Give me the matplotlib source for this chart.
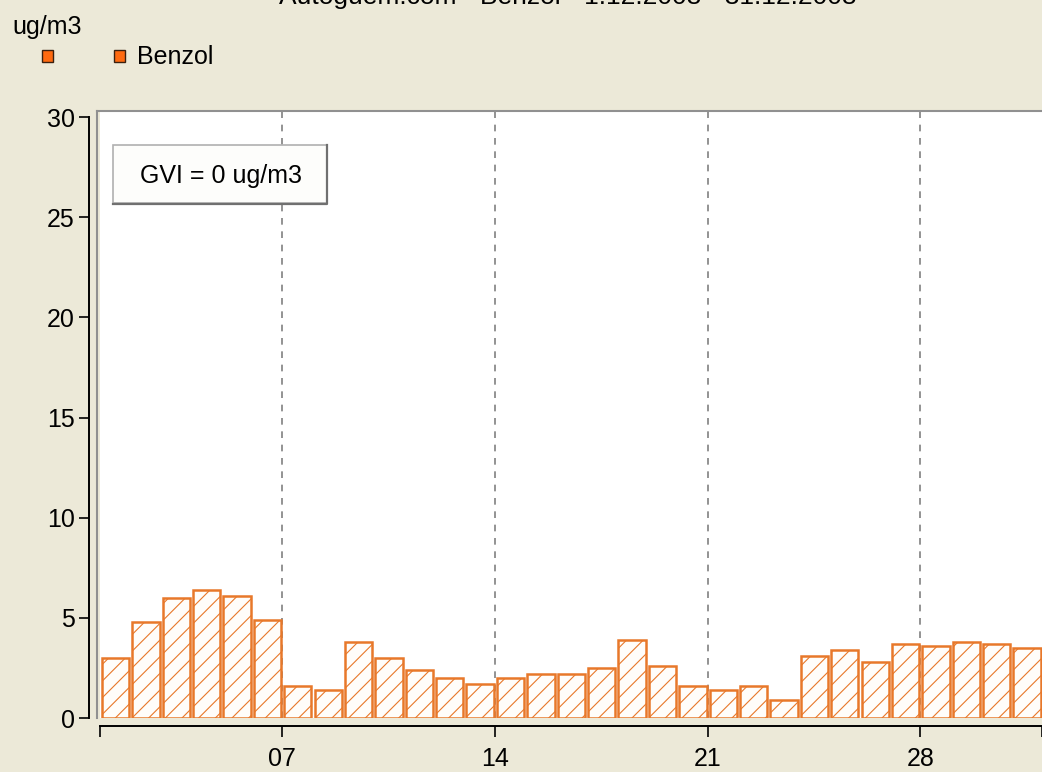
import numpy as np
import matplotlib.pyplot as plt
from matplotlib.patches import Rectangle
from matplotlib.lines import Line2D

plt.rcParams['font.family'] = ['Liberation Sans', 'DejaVu Sans']
plt.rcParams['hatch.linewidth'] = 0.8

# daily benzol values, December
days = list(range(1, 32))
benzol = [3.0, 4.8, 6.0, 6.4, 6.1, 4.9, 1.6, 1.4, 3.8, 3.0, 2.4, 2.0, 1.7, 2.0,
          2.2, 2.2, 2.5, 3.9, 2.6, 1.6, 1.4, 1.6, 0.9, 3.1, 3.4, 2.8, 3.7, 3.6,
          3.8, 3.7, 3.5]
week_ticks = [7, 14, 21, 28]
week_labels = ["07", "14", "21", "28"]
y_ticks = [0, 5, 10, 15, 20, 25, 30]

title = "Autoguem.com - Benzol - 1.12.2008 - 31.12.2008"
unit = "ug/m3"
series_name = "Benzol"
gvi_text = "GVI = 0 ug/m3"

bg = '#ECE9D8'
orange = '#E8782A'

W, H = 1042, 772
fig = plt.figure(figsize=(W / 100, H / 100), dpi=100, facecolor=bg)


def fx(px):
    return px / W


def fy(py):
    return 1 - py / H


ax = fig.add_axes([fx(100), fy(718), fx(942), (718 - 111) / H])
ax.set_facecolor('white')

# dashed week lines
for t in week_ticks:
    ax.axvline(t, color='#808080', lw=1.2, ls=(0, (4, 4)), zorder=1)

ax.bar(np.array(days) + 0.06, benzol, width=0.9, align='edge',
       facecolor='#FFFDFA', edgecolor=orange, hatch='//', lw=1.8, zorder=2)

ax.set_xlim(1, 32)
ax.set_ylim(0, 30.3)

ax.set_xticks([1] + week_ticks + [32])
ax.set_xticklabels([""] + week_labels + [""])
ax.set_yticks(y_ticks)

for s in ['top', 'right']:
    ax.spines[s].set_visible(False)
ax.spines['left'].set_position(('outward', 8))
ax.spines['left'].set_bounds(0, 30)
ax.spines['bottom'].set_position(('outward', 6))
ax.spines['bottom'].set_bounds(1, 32)
ax.spines['left'].set_linewidth(1.4)
ax.spines['bottom'].set_linewidth(1.4)

ax.tick_params(axis='y', direction='out', length=7, width=1.2, pad=3,
               labelsize=18)
ax.tick_params(axis='x', direction='out', length=8, width=1.2, pad=7,
               labelsize=18)

# sunken frame around plot area
fig.add_artist(Line2D([fx(97), fx(1042)], [fy(111), fy(111)],
                      color='#909090', lw=1.5))
fig.add_artist(Line2D([fx(97), fx(97)], [fy(111), fy(718)],
                      color='#909090', lw=1.5))

# GVI box
fig.add_artist(Rectangle((fx(113), fy(203)), fx(214), (203 - 145) / H,
                         facecolor='#FDFDFB', edgecolor='#B0B0B0', lw=1.2))
fig.add_artist(Line2D([fx(113), fx(327), fx(327)],
                      [fy(204), fy(204), fy(145)], color='#707070', lw=1.6))
fig.text(fx(221), fy(176), gvi_text, ha='center', va='center', fontsize=18)

# header texts (title is clipped at the top like in the original)
fig.text(fx(568), fy(4), title, ha='center', va='baseline', fontsize=19)
fig.text(fx(12), fy(27), unit, ha='left', va='center', fontsize=18)

for x0 in [42, 114]:
    fig.add_artist(Rectangle((fx(x0), fy(62)), fx(11), 12 / H,
                             facecolor='#FF6A10', edgecolor='#3A2010', lw=1))
fig.text(fx(137), fy(57), series_name, ha='left', va='center', fontsize=18)

fig.savefig('out.png', dpi=100, facecolor=bg)
